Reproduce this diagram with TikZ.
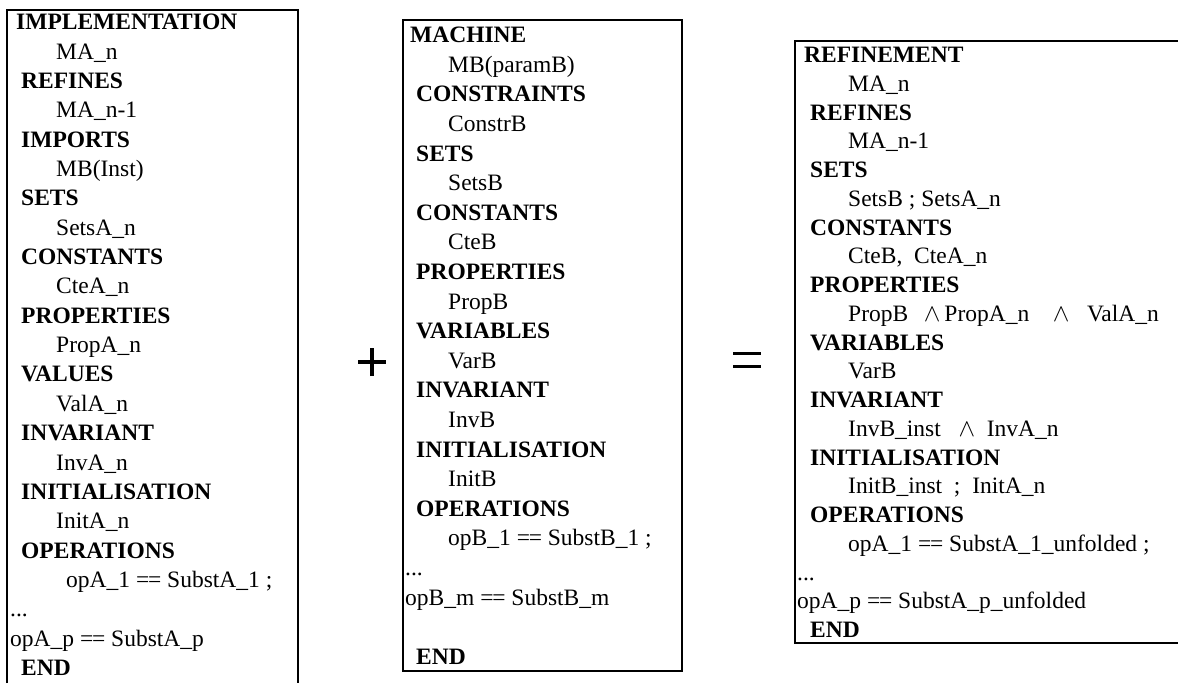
\documentclass[tikz,border=0pt]{standalone}
\usepackage{fontspec}
\setmainfont{Liberation Serif}
\newcommand\eqeq{=\kern-1.2pt=}
\begin{document}
\begin{tikzpicture}[x=1pt,y=1pt,
  boxline/.style={draw=black,line width=1.3pt},
  spec/.style={inner sep=0pt,anchor=north west,align=left,font=\fontsize{23.5}{29.6}\selectfont},
  opsign/.style={line width=3.2pt}]
\useasboundingbox (0,0) rectangle (1178,-683);
\fill[white] (0,0) rectangle (1178,-683);
% box 1
\draw[boxline] (7,-683) -- (7,-10) -- (298,-10) -- (298,-683);
\node[spec,font=\fontsize{23.5}{29.35}\selectfont] (impl) at (10,-14) {%
\hspace*{6pt}\textbf{IMPLEMENTATION}\\
\hspace*{46pt}MA\_n\\
\hspace*{11pt}\textbf{REFINES}\\
\hspace*{46pt}MA\_n-1\\
\hspace*{11pt}\textbf{IMPORTS}\\
\hspace*{46pt}MB(Inst)\\
\hspace*{11pt}\textbf{SETS}\\
\hspace*{46pt}SetsA\_n\\
\hspace*{11pt}\textbf{CONSTANTS}\\
\hspace*{46pt}CteA\_n\\
\hspace*{11pt}\textbf{PROPERTIES}\\
\hspace*{46pt}PropA\_n\\
\hspace*{11pt}\textbf{VALUES}\\
\hspace*{46pt}ValA\_n\\
\hspace*{11pt}\textbf{INVARIANT}\\
\hspace*{46pt}InvA\_n\\
\hspace*{11pt}\textbf{INITIALISATION}\\
\hspace*{46pt}InitA\_n\\
\hspace*{11pt}\textbf{OPERATIONS}\\
\hspace*{56pt}opA\_1 \eqeq{} SubstA\_1 ;\\
...\\
opA\_p \eqeq{} SubstA\_p\\
\hspace*{11pt}\textbf{END}};
% plus
\coordinate (pc) at (372,-362);
\draw[opsign] ([xshift=-14pt]pc) -- ([xshift=14pt]pc);
\draw[opsign] ([yshift=-14pt]pc) -- ([yshift=14pt]pc);
% box 2
\draw[boxline] (403,-20) rectangle (682,-671);
\node[spec] (mach) at (405,-27) {%
\hspace*{5pt}\textbf{MACHINE}\\
\hspace*{43pt}MB(paramB)\\
\hspace*{11pt}\textbf{CONSTRAINTS}\\
\hspace*{43pt}ConstrB\\
\hspace*{11pt}\textbf{SETS}\\
\hspace*{43pt}SetsB\\
\hspace*{11pt}\textbf{CONSTANTS}\\
\hspace*{43pt}CteB\\
\hspace*{11pt}\textbf{PROPERTIES}\\
\hspace*{43pt}PropB\\
\hspace*{11pt}\textbf{VARIABLES}\\
\hspace*{43pt}VarB\\
\hspace*{11pt}\textbf{INVARIANT}\\
\hspace*{43pt}InvB\\
\hspace*{11pt}\textbf{INITIALISATION}\\
\hspace*{43pt}InitB\\
\hspace*{11pt}\textbf{OPERATIONS}\\
\hspace*{43pt}opB\_1 \eqeq{} SubstB\_1 ;\\
...\\
opB\_m \eqeq{} SubstB\_m\\
\mbox{}\\
\hspace*{11pt}\textbf{END}};
% equals
\coordinate (ec) at (747,-360);
\draw[opsign] ([xshift=-14pt,yshift=6.5pt]ec) -- ([xshift=14pt,yshift=6.5pt]ec);
\draw[opsign] ([xshift=-14pt,yshift=-6.5pt]ec) -- ([xshift=14pt,yshift=-6.5pt]ec);
% box 3
\draw[boxline] (1178,-41) -- (795,-41) -- (795,-643) -- (1178,-643);
\node[spec,font=\fontsize{23.5}{28.75}\selectfont] (refn) at (797,-47) {%
\hspace*{7pt}\textbf{REFINEMENT}\\
\hspace*{51pt}MA\_n\\
\hspace*{13pt}\textbf{REFINES}\\
\hspace*{51pt}MA\_n-1\\
\hspace*{13pt}\textbf{SETS}\\
\hspace*{51pt}SetsB ; SetsA\_n\\
\hspace*{13pt}\textbf{CONSTANTS}\\
\hspace*{51pt}CteB,\ \ CteA\_n\\
\hspace*{13pt}\textbf{PROPERTIES}\\
\hspace*{51pt}PropB \ \,$\wedge$\,PropA\_n \ \ \ $\wedge$ \ \ ValA\_n\\
\hspace*{13pt}\textbf{VARIABLES}\\
\hspace*{51pt}VarB\\
\hspace*{13pt}\textbf{INVARIANT}\\
\hspace*{51pt}InvB\_inst \ \ $\wedge$ \ InvA\_n\\
\hspace*{13pt}\textbf{INITIALISATION}\\
\hspace*{51pt}InitB\_inst \ ; \ InitA\_n\\
\hspace*{13pt}\textbf{OPERATIONS}\\
\hspace*{51pt}opA\_1 \eqeq{} SubstA\_1\_unfolded ;\\
...\\
opA\_p \eqeq{} SubstA\_p\_unfolded\\
\hspace*{13pt}\textbf{END}};
\end{tikzpicture}
\end{document}
